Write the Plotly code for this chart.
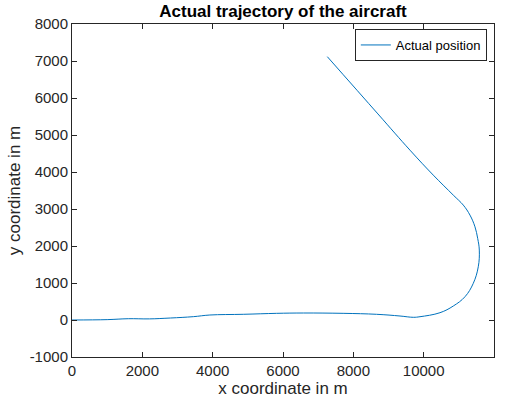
import plotly.graph_objects as go

# Flight path of the aircraft (metres)
x_pos = [0, 1000, 1600, 2200, 2800, 3450, 3920, 4870, 5820, 6580, 7710, 8660,
         9327, 9705, 9896, 10464, 10843, 11175, 11411, 11553, 11582, 11536,
         11459, 11317, 11127, 10843, 10274, 9611, 8700, 7260]
y_pos = [0, 10, 35, 30, 54, 90, 135, 154, 180, 189, 180, 154,
         108, 73, 89, 197, 378, 629, 991, 1439, 1890, 2206,
         2519, 2835, 3105, 3375, 3915, 4590, 5569, 7117]

x_ticks = [0, 2000, 4000, 6000, 8000, 10000, 12000]
y_ticks = [-1000, 0, 1000, 2000, 3000, 4000, 5000, 6000, 7000, 8000]

FONT = "Liberation Sans, Arial, Helvetica, sans-serif"
AX = "#262626"

fig = go.Figure()
fig.add_trace(go.Scatter(
    x=x_pos, y=y_pos, mode="lines", name="Actual position",
    line=dict(color="#0072BD", width=1, shape="spline", smoothing=1.1),
))

axis_common = dict(
    showgrid=False, zeroline=False, showline=True, linecolor=AX, linewidth=1,
    mirror="ticks", ticks="inside", ticklen=5, tickcolor=AX, tickwidth=1,
    tickfont=dict(family=FONT, size=15, color=AX), automargin=False,
)

fig.update_layout(
    width=513, height=401,
    margin=dict(l=72, r=19, t=24, b=44),
    paper_bgcolor="white", plot_bgcolor="white",
    title=dict(text="<b>Actual trajectory of the aircraft</b>",
               font=dict(family=FONT, size=17, color="black"),
               x=(72 + 494) / 2 / 513, xanchor="center",
               y=1 - 11 / 401, yanchor="middle"),
    xaxis=dict(range=[0, 12000], tickvals=x_ticks,
               ticktext=[str(v) for v in x_ticks],
               title=dict(text="x coordinate in m", standoff=0,
                          font=dict(family=FONT, size=17, color=AX)),
               **axis_common),
    yaxis=dict(range=[-1000, 8000], tickvals=y_ticks,
               ticktext=[str(v) for v in y_ticks],
               title=dict(text="y coordinate in m", standoff=4,
                          font=dict(family=FONT, size=17, color=AX)),
               **axis_common),
    showlegend=True,
    legend=dict(x=0.983, xanchor="right", y=0.985, yanchor="top",
                bgcolor="white", bordercolor=AX, borderwidth=1,
                font=dict(family=FONT, size=13, color="black"),
                itemwidth=30, tracegroupgap=0),
)

fig.write_html("out.html")
